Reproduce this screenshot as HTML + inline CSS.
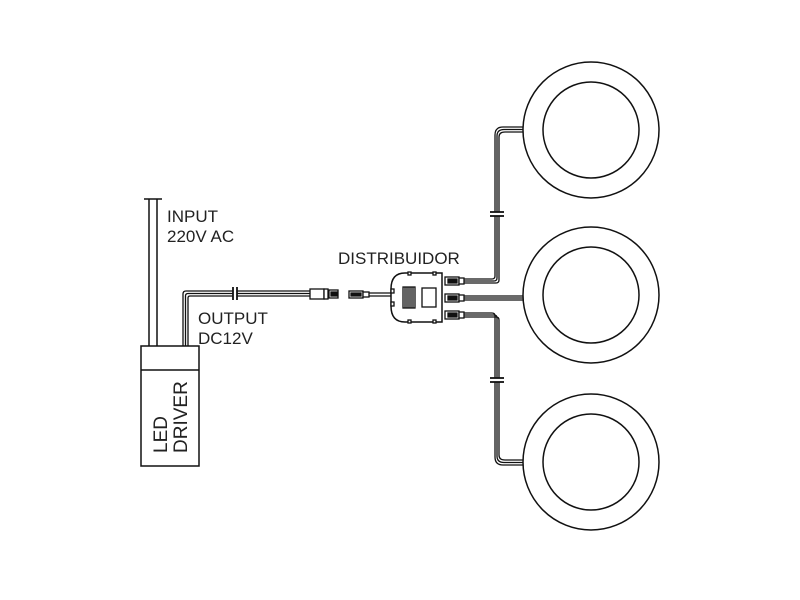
<!DOCTYPE html>
<html><head><style>
body{margin:0;background:#fff}
svg{display:block}
text{font-family:"Liberation Sans",Arial,sans-serif;font-size:17px;fill:#222}
</style></head><body>
<svg width="800" height="600" viewBox="0 0 800 600" xmlns="http://www.w3.org/2000/svg">
<g fill="none" stroke="#111" stroke-width="1.5">
<circle cx="591" cy="130" r="68"/><circle cx="591" cy="130" r="48"/>
<circle cx="591" cy="295" r="68"/><circle cx="591" cy="295" r="48"/>
<circle cx="591" cy="462" r="68"/><circle cx="591" cy="462" r="48"/>
<rect x="141" y="346" width="58" height="120"/>
<line x1="141" y1="370" x2="199" y2="370"/>
<line x1="149" y1="199" x2="149" y2="346"/>
<line x1="157" y1="199" x2="157" y2="346"/>
<line x1="144" y1="199" x2="162" y2="199"/>
</g>
<g fill="none" stroke="#111" stroke-width="1.3">
<path d="M183 346 V294 Q183 291 186 291 H233"/>
<path d="M185.5 346 V296 Q185.5 293.5 188 293.5 H233"/>
<path d="M188 346 V298 Q188 296 190 296 H233"/>
<path d="M237 291 H310 M237 293.5 H310 M237 296 H310"/>
<line x1="233" y1="287" x2="233" y2="300" stroke-width="1.8"/>
<line x1="237" y1="287" x2="237" y2="300" stroke-width="1.8"/>
<rect x="310" y="289" width="14" height="10" fill="#fff"/>
<rect x="324" y="289" width="4" height="10" fill="#fff"/>
<rect x="329" y="290" width="9" height="8" fill="#fff"/>
<rect x="331" y="292" width="6" height="4" fill="#111"/>
<rect x="349" y="291" width="14" height="7" fill="#fff"/>
<rect x="351" y="293" width="10" height="3" fill="#111"/>
<rect x="363" y="292" width="6" height="5" fill="#fff"/>
<path d="M369 293 H392 M369 296 H392"/>
<path d="M405 273 H442 V322 H405 Q391 322 391 306 V289 Q391 273 405 273 Z" fill="#fff" stroke-width="1.5"/>
<rect x="408" y="272" width="3" height="3" fill="#fff"/>
<rect x="433" y="272" width="3" height="3" fill="#fff"/>
<rect x="408" y="320" width="3" height="3" fill="#fff"/>
<rect x="433" y="320" width="3" height="3" fill="#fff"/>
<rect x="391" y="289" width="3" height="4" fill="#fff"/>
<rect x="391" y="302" width="3" height="4" fill="#fff"/>
<rect x="403" y="287" width="12" height="21" fill="#fff"/>
<path d="M405 287 V308 M407 287 V308 M409 287 V308 M411 287 V308 M413 287 V308"/>
<rect x="422" y="288" width="14" height="19" fill="#fff"/>
<g fill="#fff">
<rect x="445" y="277" width="14" height="8"/><rect x="459" y="278" width="5" height="6"/>
<rect x="445" y="294" width="14" height="8"/><rect x="459" y="295" width="5" height="6"/>
<rect x="445" y="311" width="14" height="8"/><rect x="459" y="312" width="5" height="6"/>
</g>
<g fill="#111"><rect x="448" y="279" width="9" height="4"/><rect x="448" y="296" width="9" height="4"/><rect x="448" y="313" width="9" height="4"/></g>
<path d="M464 279 H492 Q495 279 495 276 V135 Q495 127 503 127 H523"/>
<path d="M464 281 H494 Q497 281 497 278 V136 Q497 129.5 504 129.5 H523"/>
<path d="M464 283 H496 Q499 283 499 280 V137 Q499 132 505 132 H523"/>
<path d="M464 296 H523 M464 298 H523 M464 300 H523"/>
<path d="M464 313 H492 Q495 313 495 316 V457 Q495 465 503 465 H523"/>
<path d="M464 315 H494 Q497 315 497 318 V456 Q497 462.5 504 462.5 H523"/>
<path d="M464 317 H496 Q499 317 499 320 V455 Q499 460 505 460 H523"/>
</g>
<g stroke="#111" stroke-width="1.8">
<rect x="493" y="212" width="8" height="4" fill="#fff" stroke="none"/>
<line x1="490" y1="212" x2="504" y2="212"/><line x1="490" y1="216" x2="504" y2="216"/>
<rect x="493" y="378" width="8" height="4" fill="#fff" stroke="none"/>
<line x1="490" y1="378" x2="504" y2="378"/><line x1="490" y1="382" x2="504" y2="382"/>
</g>
<text x="167" y="222">INPUT</text>
<text x="167" y="242">220V AC</text>
<text x="198" y="324">OUTPUT</text>
<text x="198" y="344">DC12V</text>
<text x="338" y="264">DISTRIBUIDOR</text>
<text style="font-size:19px" transform="translate(167,453) rotate(-90)">LED</text>
<text style="font-size:19px" transform="translate(187,453) rotate(-90)">DRIVER</text>
</svg>
</body></html>
